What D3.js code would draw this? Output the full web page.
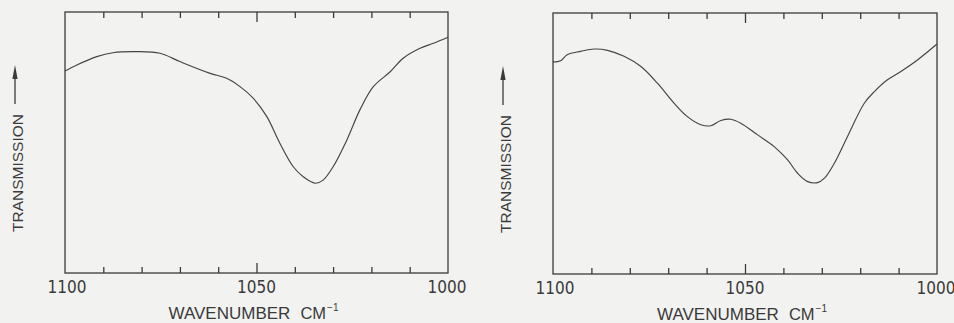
<!DOCTYPE html>
<html>
<head>
<meta charset="utf-8">
<script src="https://cdn.jsdelivr.net/npm/d3@7"></script>
<style>
  html, body { margin: 0; padding: 0; background: #f2f2f1; }
  svg { display: block; }
</style>
</head>
<body>
<svg id="chart" width="954" height="323"></svg>
<script>
// ---- Data ----
const xTicks = [1100, 1050, 1000];
const minorTicks = [1090, 1080, 1070, 1060, 1040, 1030, 1020, 1010];

const leftWavenumber = [1100, 1096.9, 1091.7, 1087.5, 1081.3, 1075.2, 1070, 1062.1, 1057.8, 1054.3, 1050.8, 1047.3, 1043.9, 1040.4, 1037.8, 1034.7, 1032.6, 1030, 1026.4, 1023, 1019.5, 1015.1, 1011.7, 1007.3, 1003.8, 1000];
const leftTransmission = [77.4, 79.7, 82.9, 84.4, 84.8, 84.2, 81.0, 76.5, 74.6, 71.4, 66.9, 59.9, 49.7, 40.7, 36.9, 34.4, 35.6, 40.7, 51.0, 62.5, 71.4, 77.1, 82.3, 86.1, 88.0, 90.3];

const rightWavenumber = [1100, 1098, 1096.3, 1092.8, 1089.3, 1085.8, 1081.5, 1077.1, 1072.8, 1068.5, 1065, 1061.5, 1058.9, 1056.3, 1053.7, 1051.1, 1046.7, 1042.4, 1038.9, 1036.3, 1033.7, 1031.1, 1029.3, 1026.7, 1023.3, 1018.9, 1016.3, 1012.9, 1009.4, 1005, 1000];
const rightTransmission = [81.2, 81.7, 84.0, 85.3, 86.2, 85.7, 83.4, 79.5, 73.1, 65.5, 60.3, 57.2, 56.8, 58.8, 59.3, 57.8, 53.3, 48.8, 43.7, 38.6, 35.4, 35.0, 36.7, 42.5, 52.7, 65.5, 69.9, 74.4, 77.6, 82.1, 88.1];

const yLabel = "TRANSMISSION";
const xLabel = "WAVENUMBER";
const xUnit = "CM";
const xUnitExp = "\u22121";

// ---- Drawing ----
const svg = d3.select("#chart");
const ink = "#3a3a3a";

function panel(left, top, right, bottom, wn, tr) {
  const g = svg.append("g");
  const x = d3.scaleLinear().domain([1100, 1000]).range([left, right]);
  const y = d3.scaleLinear().domain([0, 100]).range([bottom, top]);

  // frame
  g.append("rect").attr("x", left).attr("y", top)
    .attr("width", right - left).attr("height", bottom - top)
    .attr("fill", "none").attr("stroke", ink).attr("stroke-width", 1.3);

  // bottom axis (ticks pointing inward)
  const axB = d3.axisBottom(x).tickValues(minorTicks).tickSize(-6).tickFormat("");
  g.append("g").attr("transform", `translate(0,${bottom})`).call(axB)
    .call(s => s.select(".domain").remove());
  const axBM = d3.axisBottom(x).tickValues([1050]).tickSize(-10).tickFormat("");
  g.append("g").attr("transform", `translate(0,${bottom})`).call(axBM)
    .call(s => s.select(".domain").remove());
  // top axis
  const axT = d3.axisTop(x).tickValues(minorTicks).tickSize(-6).tickFormat("");
  g.append("g").attr("transform", `translate(0,${top})`).call(axT)
    .call(s => s.select(".domain").remove());
  const axTM = d3.axisTop(x).tickValues([1050]).tickSize(-10).tickFormat("");
  g.append("g").attr("transform", `translate(0,${top})`).call(axTM)
    .call(s => s.select(".domain").remove());
  g.selectAll(".tick line").attr("stroke", ink).attr("stroke-width", 1.3);

  // tick labels
  g.selectAll("text.tl").data(xTicks).enter().append("text")
    .attr("class", "tl")
    .attr("x", d => x(d) + (d === 1100 ? 2 : (d === 1000 ? -1 : 0)))
    .attr("y", bottom + 20)
    .attr("text-anchor", "middle")
    .attr("font-family", "'Liberation Sans Narrow', 'DejaVu Sans Condensed', sans-serif")
    .attr("font-size", 17)
    .attr("fill", ink)
    .text(d => d);

  // x title
  const cx = (left + right) / 2;
  const t = g.append("text")
    .attr("x", cx - 3).attr("y", bottom + 46)
    .attr("text-anchor", "middle")
    .attr("font-family", "'Liberation Sans', Arial, sans-serif")
    .attr("font-size", 17)
    .attr("fill", ink);
  t.append("tspan").text(xLabel);
  t.append("tspan").attr("dx", 10).attr("font-size", 16.5).text(xUnit);
  t.append("tspan").attr("dy", -8).attr("dx", 1).attr("font-size", 10).text(xUnitExp);

  // y title with arrow
  const lx = left - 42;
  g.append("text")
    .attr("transform", `translate(${lx},${bottom - 41}) rotate(-90)`)
    .attr("font-family", "'Liberation Sans', Arial, sans-serif")
    .attr("font-size", 15.5)
    .attr("fill", ink)
    .text(yLabel);
  const ax = left - 50;
  g.append("line")
    .attr("x1", ax).attr("x2", ax)
    .attr("y1", top + 92).attr("y2", top + 64)
    .attr("stroke", ink).attr("stroke-width", 1.3);
  g.append("path")
    .attr("d", `M${ax},${top + 53} L${ax - 2.6},${top + 67} L${ax + 2.6},${top + 67} Z`)
    .attr("fill", ink);

  // curve
  const pts = wn.map((w, i) => [w, tr[i]]);
  const line = d3.line().x(d => x(d[0])).y(d => y(d[1])).curve(d3.curveCatmullRom.alpha(0.5));
  g.append("path").datum(pts)
    .attr("d", line)
    .attr("fill", "none")
    .attr("stroke", "#444")
    .attr("stroke-width", 1.15);
}

panel(65, 12, 448, 273, leftWavenumber, leftTransmission);
panel(553, 13, 937, 274, rightWavenumber, rightTransmission);
</script>
</body>
</html>
